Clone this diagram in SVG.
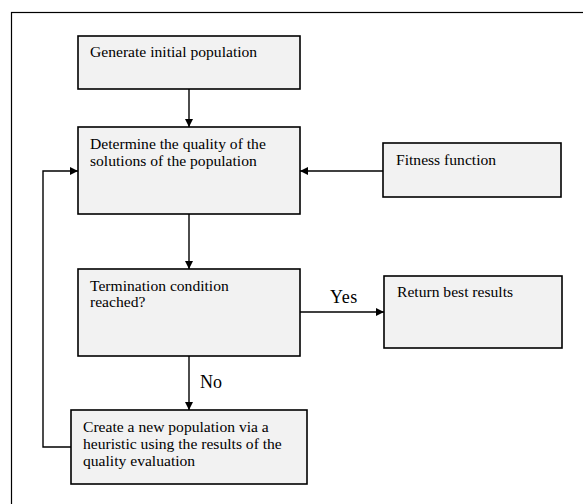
<svg xmlns="http://www.w3.org/2000/svg" width="583" height="504" viewBox="0 0 583 504">
<style>
.box{fill:#f2f2f2;stroke:#000;stroke-width:1.6}
.t{font-family:"Liberation Serif","Times New Roman",serif;font-size:15.6px;fill:#000}
.lbl{font-family:"Liberation Serif","Times New Roman",serif;font-size:18px;fill:#000}
.c{fill:none;stroke:#000;stroke-width:1.4}
</style>
<defs>
<marker id="ah" viewBox="0 0 10 10" refX="10" refY="5" markerWidth="8" markerHeight="8" markerUnits="userSpaceOnUse" orient="auto">
<path d="M0,0 L10,5 L0,10 z" fill="#000"/>
</marker>
</defs>
<rect x="11.5" y="12.5" width="700" height="600" fill="none" stroke="#000" stroke-width="1.2"/>
<g id="connectors">
<line class="c" x1="189" y1="89" x2="189" y2="127" marker-end="url(#ah)"/>
<line class="c" x1="189" y1="214" x2="189" y2="269" marker-end="url(#ah)"/>
<line class="c" x1="189" y1="356" x2="189" y2="410" marker-end="url(#ah)"/>
<line class="c" x1="383" y1="171" x2="300" y2="171" marker-end="url(#ah)"/>
<line class="c" x1="300" y1="312" x2="384" y2="312" marker-end="url(#ah)"/>
<polyline class="c" points="71,447 43,447 43,171 78,171" marker-end="url(#ah)"/>
<text class="lbl" x="330" y="303" letter-spacing="0.5">Yes</text>
<text class="lbl" x="200" y="388">No</text>
</g>
<g id="generate">
<rect class="box" x="78" y="36" width="222" height="53"/>
<text class="t" x="90" y="57">Generate initial population</text>
</g>
<g id="determine">
<rect class="box" x="78" y="127" width="222" height="87"/>
<text class="t" x="90" y="149">Determine the quality of the</text>
<text class="t" x="90" y="166">solutions of the population</text>
</g>
<g id="fitness">
<rect class="box" x="383" y="143" width="178" height="54"/>
<text class="t" x="396" y="165">Fitness function</text>
</g>
<g id="termination">
<rect class="box" x="78" y="269" width="222" height="87"/>
<text class="t" x="90" y="291">Termination condition</text>
<text class="t" x="90" y="307">reached?</text>
</g>
<g id="return">
<rect class="box" x="384" y="276" width="178" height="72"/>
<text class="t" x="397" y="297">Return best results</text>
</g>
<g id="create">
<rect class="box" x="71" y="410" width="236" height="74"/>
<text class="t" x="83" y="432">Create a new population via a</text>
<text class="t" x="83" y="449">heuristic using the results of the</text>
<text class="t" x="83" y="466">quality evaluation</text>
</g>
</svg>
